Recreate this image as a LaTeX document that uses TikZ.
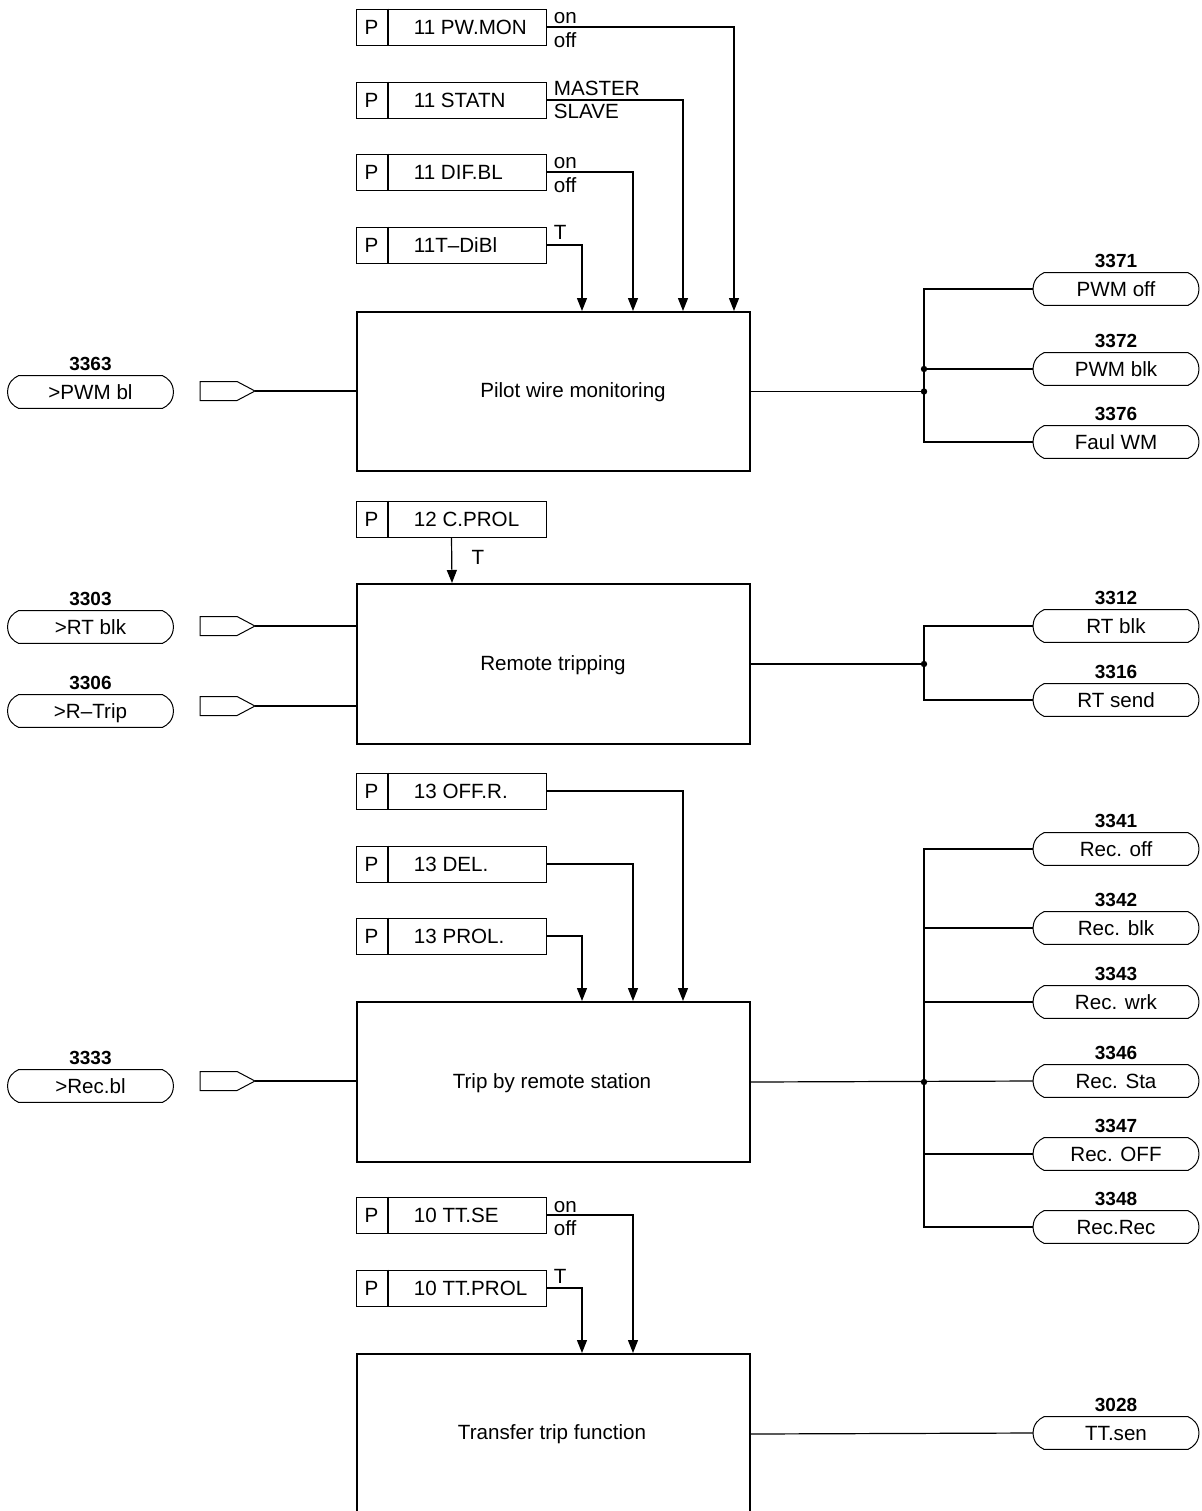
\documentclass[tikz,border=0pt]{standalone}
\usepackage{fontspec}
\setmainfont{Liberation Sans}
\usetikzlibrary{arrows.meta,calc}
\tikzset{
  x=0.5pt,y=-0.5pt,
  every node/.style={font=\fontsize{10.3}{12}\selectfont, inner sep=0pt, text height=7.3pt, text depth=0pt},
  blk/.style={draw,line width=1pt,minimum width=196.5pt,minimum height=80pt,anchor=north west},
  pbox/.style={draw,line width=0.5pt,minimum width=95pt,minimum height=18pt},
  ovl/.style={minimum width=82.5pt,minimum height=16pt},
  num/.style={font=\fontsize{9.5}{11}\bfseries\selectfont,text height=6.8pt},
  conn/.style={line width=0.6pt},
  arr/.style={conn,-{Triangle[length=6.5pt,width=5pt]}},
  ovline/.style={line width=0.5pt},
}
\newcommand\ovshape[1]{%
  \draw[ovline] ([xshift=5.5pt]#1.north west) -- ([xshift=-5.5pt]#1.north east)
    .. controls ([xshift=-2.8pt,yshift=-1.2pt]#1.north east) and ([yshift=4.5pt]#1.east) .. (#1.east)
    .. controls ([yshift=-4.5pt]#1.east) and ([xshift=-2.8pt,yshift=1.2pt]#1.south east) .. ([xshift=-5.5pt]#1.south east)
    -- ([xshift=5.5pt]#1.south west)
    .. controls ([xshift=2.8pt,yshift=1.2pt]#1.south west) and ([yshift=-4.5pt]#1.west) .. (#1.west)
    .. controls ([yshift=4.5pt]#1.west) and ([xshift=2.8pt,yshift=-1.2pt]#1.north west) .. cycle;}
% input: name, cy, number, text, arrow y
\newcommand\inp[5]{%
  \node[ovl] (#1) at (90.5,#2) {#4};
  \ovshape{#1}
  \node[num] (#1n) at ($(#1)+(0,-28)$) {#3};
  \coordinate (#1a) at (255,#5);
  \draw[ovline] (#1a) -- ++(-18,-9.5) -- ++(-37,0) -- ++(0,19) -- ++(37,0) -- cycle;}
% output: name, cy, number, text
\newcommand\outp[4]{%
  \node[ovl] (#1) at (1116,#2) {#4};
  \ovshape{#1}
  \node[num] (#1n) at ($(#1)+(0,-28)$) {#3};}
% parameter box: name, cy, text
\newcommand\pbox[3]{%
  \node[pbox] (#1) at (451,#2) {};
  \draw[line width=1pt] ([xshift=16pt]#1.north west) -- ([xshift=16pt]#1.south west);
  \node (#1p) at ([xshift=8pt]#1.west) {P};
  \node[anchor=west] (#1t) at ([xshift=29pt]#1.west) {#3};}
\begin{document}
\begin{tikzpicture}
\useasboundingbox (0,0) rectangle (1201,1511);
\clip (0,0) rectangle (1201,1511);
\fill[white] (0,0) rectangle (1201,1511);

% ---------- Blocks ----------
\node[blk,minimum height=79.5pt] (b1) at (356,311) {};
\node (b1t) at (573,390) {Pilot wire monitoring};
\node[blk] (b2) at (356,583) {};
\node (b2t) at (553,663) {Remote tripping};
\node[blk] (b3) at (356,1001) {};
\node (b3t) at (552,1081) {Trip by remote station};
\node[blk] (b4) at (356,1353) {};
\node (b4t) at (552,1432) {Transfer trip function};

% ---------- Section 1 ----------
\pbox{pw}{27}{11 PW.MON}
\pbox{st}{100}{11 STATN}
\pbox{dif}{172}{11 DIF.BL}
\pbox{tdi}{245}{11T--DiBl}
\node[anchor=base west] (pwon) at ($(pw.east)+(7,-4)$) {on};
\node[anchor=base west] (pwoff) at ($(pw.east)+(7,20)$) {off};
\node[anchor=base west] (stm) at ($(st.east)+(7,-5)$) {MASTER};
\node[anchor=base west] (sts) at ($(st.east)+(7,18)$) {SLAVE};
\node[anchor=base west] (difon) at ($(dif.east)+(7,-4)$) {on};
\node[anchor=base west] (difoff) at ($(dif.east)+(7,20)$) {off};
\node[anchor=base west] (tdiT) at ($(tdi.east)+(7,-6)$) {T};
\draw[arr] (pw.east) -| ($(b1.north west)+(378,0)$);
\draw[arr] (st.east) -| ($(b1.north west)+(327,0)$);
\draw[arr] (dif.east) -| ($(b1.north west)+(277,0)$);
\draw[arr] (tdi.east) -| ($(b1.north west)+(226,0)$);

\inp{i3363}{392}{3363}{>PWM bl}{391}
\draw[conn] (i3363a) -- (i3363a -| b1.west);

\outp{o3371}{289}{3371}{PWM off}
\outp{o3372}{369}{3372}{PWM blk}
\outp{o3376}{442}{3376}{Faul WM}
\coordinate (j1) at ($(b1.east)+(173,0)$);
\draw[conn] (b1.east) -- (j1);
\draw[conn] (o3371.west) -| (j1 |- o3376.west) -- (o3376.west);
\draw[conn] (o3372.west) -- (j1 |- o3372.west);
\fill (j1) circle (1.6pt);
\fill (j1 |- o3372.west) circle (1.6pt);

% ---------- Section 2 ----------
\pbox{cp}{519}{12 C.PROL}
\draw[arr] ($(cp.south west)+(96,0)$) -- ($(b2.north west)+(96,0)$);
\node (cpT) at (478,557) {T};

\inp{i3303}{627}{3303}{>RT blk}{626}
\inp{i3306}{711}{3306}{>R--Trip}{706}
\draw[conn] (i3303a) -- (i3303a -| b2.west);
\draw[conn] (i3306a) -- (i3306a -| b2.west);

\outp{o3312}{626}{3312}{RT blk}
\outp{o3316}{700}{3316}{RT send}
\coordinate (j2) at ($(b2.east)+(173,0)$);
\draw[conn] (b2.east) -- (j2);
\draw[conn] (o3312.west) -| (j2 |- o3316.west) -- (o3316.west);
\fill (j2) circle (1.6pt);

% ---------- Section 3 ----------
\pbox{offr}{791}{13 OFF.R.}
\pbox{del}{864}{13 DEL.}
\pbox{prol}{936}{13 PROL.}
\draw[arr] (offr.east) -| ($(b3.north west)+(327,0)$);
\draw[arr] (del.east) -| ($(b3.north west)+(277,0)$);
\draw[arr] (prol.east) -| ($(b3.north west)+(226,0)$);

\inp{i3333}{1086}{3333}{>Rec.bl}{1081}
\draw[conn] (i3333a) -- (i3333a -| b3.west);

\outp{o3341}{849}{3341}{Rec. off}
\outp{o3342}{928}{3342}{Rec. blk}
\outp{o3343}{1002}{3343}{Rec. wrk}
\outp{o3346}{1081}{3346}{Rec. Sta}
\outp{o3347}{1154}{3347}{Rec. OFF}
\outp{o3348}{1227}{3348}{Rec.Rec}
\coordinate (j3) at ($(b3.east)+(173,0)$);
\draw[conn] (b3.east) -- (o3346.west);
\draw[conn] (o3341.west) -| (j3 |- o3348.west) -- (o3348.west);
\draw[conn] (o3342.west) -- (j3 |- o3342.west);
\draw[conn] (o3343.west) -- (j3 |- o3343.west);
\draw[conn] (o3347.west) -- (j3 |- o3347.west);
\fill (j3) circle (1.6pt);

% ---------- Section 4 ----------
\pbox{ttse}{1215}{10 TT.SE}
\pbox{ttpr}{1288}{10 TT.PROL}
\node[anchor=base west] (tton) at ($(ttse.east)+(7,-3)$) {on};
\node[anchor=base west] (ttoff) at ($(ttse.east)+(7,20)$) {off};
\node[anchor=base west] (ttT) at ($(ttpr.east)+(7,-5)$) {T};
\draw[arr] (ttse.east) -| ($(b4.north west)+(277,0)$);
\draw[arr] (ttpr.east) -| ($(b4.north west)+(226,0)$);

\outp{o3028}{1433}{3028}{TT.sen}
\draw[conn] (b4.east) -- (o3028.west);
\end{tikzpicture}
\end{document}
